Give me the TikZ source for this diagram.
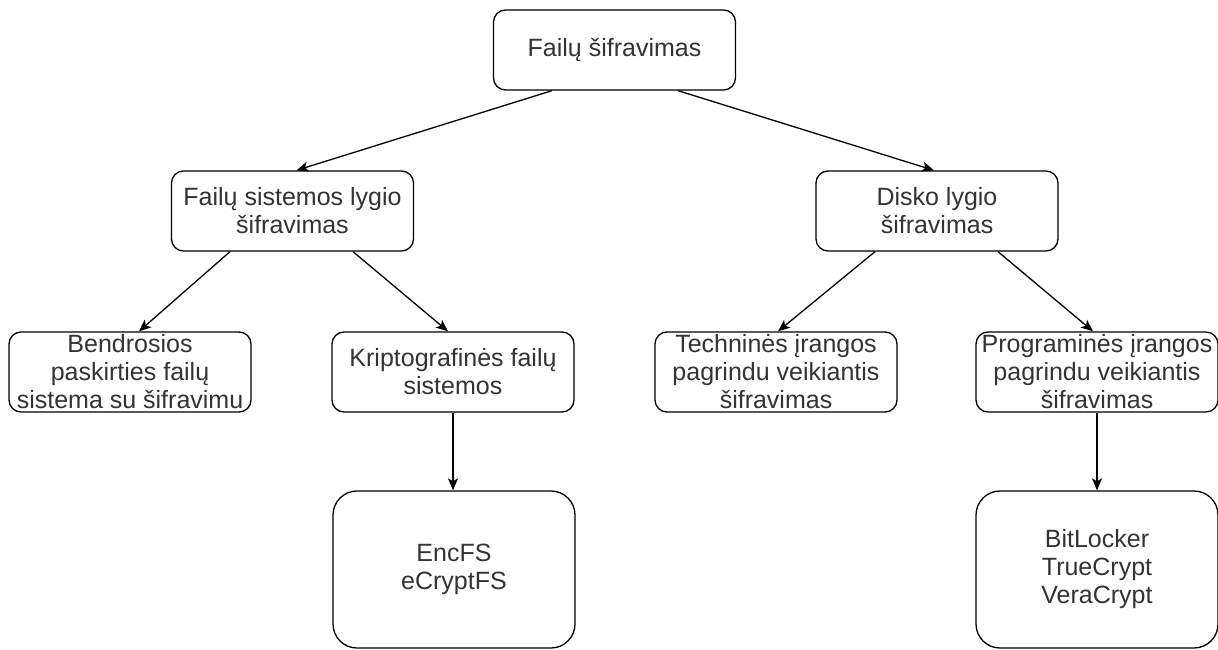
\documentclass[tikz,border=0pt]{standalone}
\usepackage{fontspec}
\setmainfont{Liberation Sans}
\usetikzlibrary{arrows.meta}

\definecolor{txtgray}{RGB}{51,51,51}

\tikzset{
  box/.style={draw=black, line width=1.3pt, rounded corners=12pt, fill=white,
    minimum width=242pt, minimum height=80pt, inner sep=0pt, align=center,
    text=txtgray, font=\fontsize{25}{28}\selectfont},
  bigbox/.style={box, rounded corners=24pt, minimum height=157pt},
  link/.style={line width=1.3pt, -{Stealth[length=12pt,width=10pt,inset=3pt]}},
}

\begin{document}
\begin{tikzpicture}[x=1pt,y=-1pt]
  \useasboundingbox (0,0) rectangle (1218,650);

  % root
  \node[box] (root) at (614.5,50) {Failų šifravimas};

  % second level
  \node[box] (fs)   at (292.5,211) {Failų sistemos lygio\\šifravimas};
  \node[box] (disk) at (937,211)   {Disko lygio\\šifravimas};

  % third level
  \node[box] (gen)  at (130,372)  {Bendrosios\\paskirties failų\\sistema su šifravimu};
  \node[box] (cfs)  at (453,372)  {Kriptografinės failų\\sistemos};
  \node[box] (hw)   at (776,372)  {Techninės įrangos\\pagrindu veikiantis\\šifravimas};
  \node[box] (sw)   at (1097,372) {Programinės įrangos\\pagrindu veikiantis\\šifravimas};

  % examples
  \node[bigbox] (ex1) at (454,569.5)  {EncFS\\eCryptFS};
  \node[bigbox] (ex2) at (1097,569.5) {BitLocker\\TrueCrypt\\VeraCrypt};

  % connectors
  \draw[link] ([xshift=-62.5pt]root.south) -- ([xshift=4pt]fs.north);
  \draw[link] ([xshift=63.5pt]root.south)  -- ([xshift=-3pt]disk.north);

  \draw[link] ([xshift=-62.5pt]fs.south) -- ([xshift=9pt]gen.north);
  \draw[link] ([xshift=60.5pt]fs.south)  -- ([xshift=-5pt]cfs.north);

  \draw[link] ([xshift=-62pt]disk.south) -- ([xshift=2pt]hw.north);
  \draw[link] ([xshift=61pt]disk.south)  -- ([xshift=-4pt]sw.north);

  \draw[link] (cfs.south) -- (cfs.south |- ex1.north);
  \draw[link] (sw.south)  -- (sw.south |- ex2.north);
\end{tikzpicture}
\end{document}
